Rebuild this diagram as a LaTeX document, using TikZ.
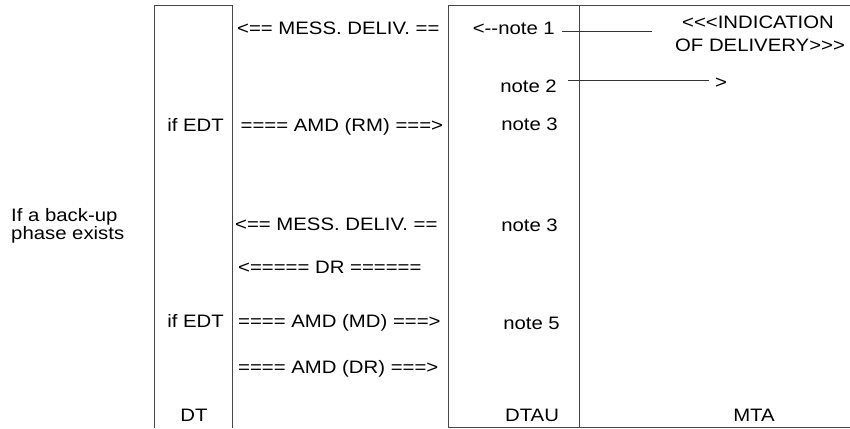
\documentclass[tikz,border=0pt]{standalone}
\usepackage{fontspec}
% sans label face, slightly widened
\newfontfamily\lab[FakeStretch=1.13]{Liberation Sans}
\begin{document}
\begin{tikzpicture}[x=1pt,y=-1pt,
  frame/.style={draw=black!72,line width=0.9pt},
  lbl/.style={font=\lab\fontsize{18}{21}\selectfont,inner sep=0pt,text=black},
  lw/.style={lbl,anchor=base west},
  le/.style={lbl,anchor=base east},
  lc/.style={lbl,anchor=base},
  link/.style={draw=black!80,line width=0.8pt}]
\useasboundingbox (0,0) rectangle (850,428);

% DT column (open at the bottom)
\draw[frame] (154,428) -- (154,5) -- (232,5) -- (232,428);
% DTAU and MTA columns
\draw[frame] (850,5) -- (448,5) -- (448,427.5) -- (850,427.5);
\draw[frame] (579,5) -- (579,427.5);

% side remark
\node[lw] (bk1) at (11,221) {If a back-up};
\node[lw] (bk2) at (11,239.5) {phase exists};

% DT side
\node[le] (if1) at (224,131) {if EDT};
\node[le] (if2) at (224,327) {if EDT};
\node[lc] (dt) at (194,421) {DT};

% exchanges between DT and DTAU
\node[lw] (m1) at (237,35) {<== MESS. DELIV. ==};
\node[lw] (m2) at (240.5,131) {==== AMD (RM) ===>};
\node[lw] (m3) at (235,230) {<== MESS. DELIV. ==};
\node[lw] (m4) at (238,273) {<===== DR ======};
\node[lw] (m5) at (238,327) {==== AMD (MD) ===>};
\node[lw] (m6) at (238,373) {==== AMD (DR) ===>};

% DTAU notes
\node[le] (n1) at (555,35) {<--note 1};
\node[le] (n2) at (557,92) {note 2};
\node[le] (n3) at (558,130) {note 3};
\node[le] (n4) at (558,231) {note 3};
\node[le] (n5) at (560,329) {note 5};
\node[lc] (dtau) at (532,421) {DTAU};

% MTA side
\node[lc] (ind1) at (758,29) {<<<INDICATION};
\node[lc] (ind2) at (760,52) {OF DELIVERY>>>};
\node[lw] (gt) at (715,88) {>};
\node[lc] (mta) at (754,421) {MTA};

% note leaders
\coordinate (a1) at (562,31);
\coordinate (b1) at (652,31);
\coordinate (a2) at (568,80);
\coordinate (b2) at (709,80);
\draw[link] (a1) -- (b1);
\draw[link] (a2) -- (b2);
\end{tikzpicture}
\end{document}
